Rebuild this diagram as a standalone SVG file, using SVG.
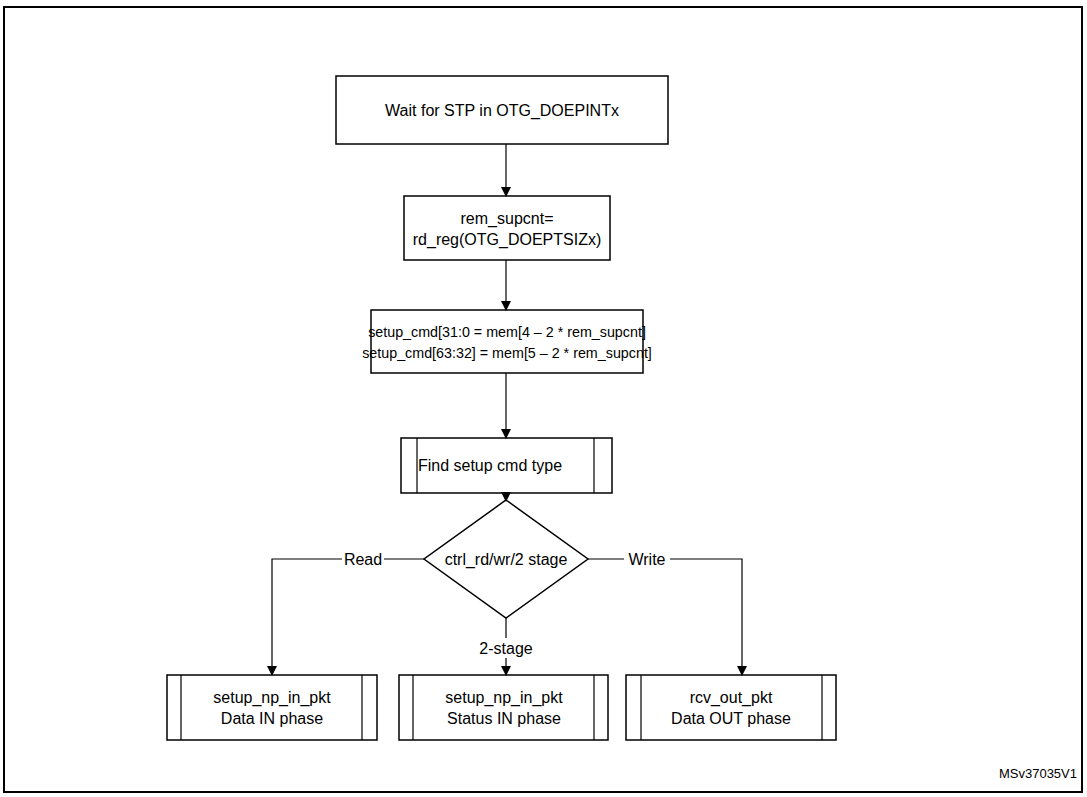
<svg xmlns="http://www.w3.org/2000/svg" width="1087" height="797" viewBox="0 0 1087 797">
<style>
.b{fill:#fff;stroke:#000;stroke-width:1.5}
.l{fill:none;stroke:#000;stroke-width:1.2}
text{font-family:"Liberation Sans",Arial,sans-serif;font-size:16px;text-anchor:middle;fill:#000}
</style>
<defs><marker id="a" markerWidth="10" markerHeight="10" refX="9" refY="5" orient="auto" markerUnits="userSpaceOnUse"><path d="M0,0L10,5L0,10z"/></marker></defs>
<rect x="0" y="0" width="1087" height="797" fill="#fff"/>
<rect x="4" y="7" width="1078" height="785" fill="none" stroke="#000" stroke-width="2"/>
<g id="n1"><rect class="b" x="336" y="76" width="332" height="68"/><text x="502" y="116">Wait for STP in OTG_DOEPINTx</text></g>
<g id="n2"><rect class="b" x="404" y="196" width="206" height="64"/><text x="507" y="224">rem_supcnt=</text><text x="507" y="245">rd_reg(OTG_DOEPTSIZx)</text></g>
<g id="n3"><rect class="b" x="371" y="310" width="272" height="63"/><text x="507" y="337" style="font-size:14.3px">setup_cmd[31:0 = mem[4 – 2 * rem_supcnt]</text><text x="507" y="358" style="font-size:14.3px">setup_cmd[63:32] = mem[5 – 2 * rem_supcnt]</text></g>
<g id="n4"><rect class="b" x="401" y="438" width="211" height="55"/><path class="l" d="M417,438V493M594,438V493"/><text x="490" y="471">Find setup cmd type</text></g>
<g id="n5"><path class="b" d="M506,500L588,559L506,618L424,559Z"/><text x="506" y="565">ctrl_rd/wr/2 stage</text></g>
<g id="n6"><rect class="b" x="167" y="675" width="210" height="65"/><path class="l" d="M181,675V740M362,675V740"/><text x="272" y="703">setup_np_in_pkt</text><text x="272" y="724">Data IN phase</text></g>
<g id="n7"><rect class="b" x="399" y="675" width="209" height="65"/><path class="l" d="M413,675V740M594,675V740"/><text x="504" y="703">setup_np_in_pkt</text><text x="504" y="724">Status IN phase</text></g>
<g id="n8"><rect class="b" x="626" y="675" width="210" height="65"/><path class="l" d="M641,675V740M822,675V740"/><text x="731" y="703">rcv_out_pkt</text><text x="731" y="724">Data OUT phase</text></g>
<g id="connectors">
<path class="l" d="M506,144V196" marker-end="url(#a)"/>
<path class="l" d="M506,260V310" marker-end="url(#a)"/>
<path class="l" d="M506,373V438" marker-end="url(#a)"/>
<path class="l" d="M506,493V501" marker-end="url(#a)"/>
<path class="l" d="M424,559H272V675" marker-end="url(#a)"/>
<path class="l" d="M588,559H742V675" marker-end="url(#a)"/>
<path class="l" d="M506,618V638M506,658V675" marker-end="url(#a)"/>
<rect x="342" y="550" width="42" height="18" fill="#fff"/><text x="363" y="565">Read</text>
<rect x="624" y="550" width="46" height="18" fill="#fff"/><text x="647" y="565">Write</text>
<text x="506" y="654">2-stage</text>
</g>
<text x="1077" y="778" style="font-size:13px;text-anchor:end">MSv37035V1</text>
</svg>
